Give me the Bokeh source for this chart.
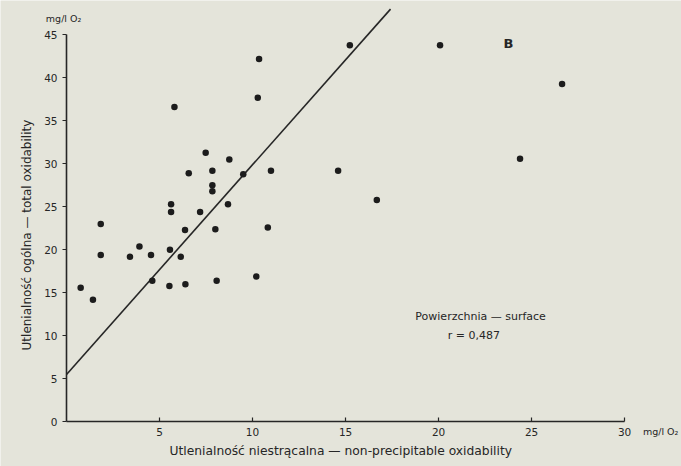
from bokeh.plotting import figure
from bokeh.models import Label, FixedTicker, Range1d
from bokeh.embed import file_html
from bokeh.resources import INLINE
import math

# data
non_precipitable = [0.76, 1.42, 1.84, 1.84, 3.41, 3.92, 4.54, 4.61, 5.53, 5.56,
                    5.62, 5.62, 5.80, 6.14, 6.37, 6.39, 6.57, 7.18, 7.48, 7.84,
                    7.84, 7.84, 8.00, 8.07, 8.68, 8.75, 9.50, 10.20, 10.28, 10.35,
                    10.82, 10.99, 14.60, 15.23, 16.68, 20.08, 24.38, 26.64]
total = [15.6, 14.2, 23.0, 19.4, 19.2, 20.4, 19.4, 16.4, 15.8, 20.0,
         25.3, 24.4, 36.6, 19.2, 22.3, 16.0, 28.9, 24.4, 31.3, 29.2,
         27.5, 26.8, 22.4, 16.4, 25.3, 30.5, 28.8, 16.9, 37.7, 42.2,
         22.6, 29.2, 29.2, 43.8, 25.8, 43.8, 30.6, 39.3]
reg_intercept = 5.5
reg_slope = 2.44
reg_y_top = 48.0
x_ticks = [5, 10, 15, 20, 25, 30]
y_ticks = [0, 5, 10, 15, 20, 25, 30, 35, 40, 45]

PAPER = "#e4e4da"
INK = "#262626"
FONT = "DejaVu Sans"

p = figure(width=681, height=466, output_backend="svg", toolbar_location=None,
           x_range=Range1d(-3.55, 33.06), y_range=Range1d(-5.2, 49.0),
           min_border=0,
           background_fill_color=PAPER, border_fill_color=PAPER)
p.outline_line_color = None
p.grid.grid_line_color = None

p.xaxis.fixed_location = 0
p.yaxis.fixed_location = 0
p.xaxis.bounds = (0, 30)
p.yaxis.bounds = (0, 45)
p.xaxis.ticker = FixedTicker(ticks=x_ticks)
p.yaxis.ticker = FixedTicker(ticks=y_ticks)
for ax in (p.xaxis, p.yaxis):
    ax.axis_line_color = INK
    ax.axis_line_width = 1.6
    ax.major_tick_line_color = INK
    ax.major_tick_line_width = 1.2
    ax.minor_tick_line_color = None
    ax.major_label_text_color = INK
    ax.major_label_text_font = FONT
    ax.major_label_text_font_size = "10.5px"
p.xaxis.major_tick_in = 4
p.xaxis.major_tick_out = 0
p.yaxis.major_tick_in = 0
p.yaxis.major_tick_out = 4
p.xaxis.major_label_standoff = 6
p.yaxis.major_label_standoff = 5

# regression line from its intercept and slope
reg_x_end = (reg_y_top - reg_intercept) / reg_slope
p.line([0, reg_x_end], [reg_intercept, reg_intercept + reg_slope * reg_x_end],
       line_color=INK, line_width=1.6)
p.scatter(non_precipitable, total, size=6.5, fill_color="#1c1c1c", line_color=None)

# axis titles and units
p.add_layout(Label(x=14.95, y=-3.45, text="Utlenialność niestrącalna  —  non-precipitable oxidability",
                   text_align="center", text_baseline="middle", text_font=FONT,
                   text_font_size="12.3px", text_color=INK))
p.add_layout(Label(x=-2.10, y=22.16, text="Utlenialność ogólna  —  total oxidability",
                   angle=math.pi / 2, text_align="center", text_baseline="middle",
                   text_font=FONT, text_font_size="12px", text_color=INK))
p.add_layout(Label(x=-0.16, y=46.9, text="mg/l O₂", text_align="center",
                   text_baseline="middle", text_font=FONT, text_font_size="9.5px",
                   text_color=INK))
p.add_layout(Label(x=31.94, y=-1.13, text="mg/l O₂", text_align="center",
                   text_baseline="middle", text_font=FONT, text_font_size="9.5px",
                   text_color=INK))

p.add_layout(Label(x=23.76, y=44.0, text="B", text_align="center",
                   text_baseline="middle", text_font=FONT, text_font_size="13px",
                   text_font_style="bold", text_color=INK))
p.add_layout(Label(x=22.26, y=12.28, text="Powierzchnia — surface", text_align="center",
                   text_baseline="middle", text_font=FONT, text_font_size="11px",
                   text_color=INK))
p.add_layout(Label(x=21.9, y=10.0, text="r = 0,487", text_align="center",
                   text_baseline="middle", text_font=FONT, text_font_size="11px",
                   text_color=INK))

open("out.html", "w").write(file_html(p, INLINE))
